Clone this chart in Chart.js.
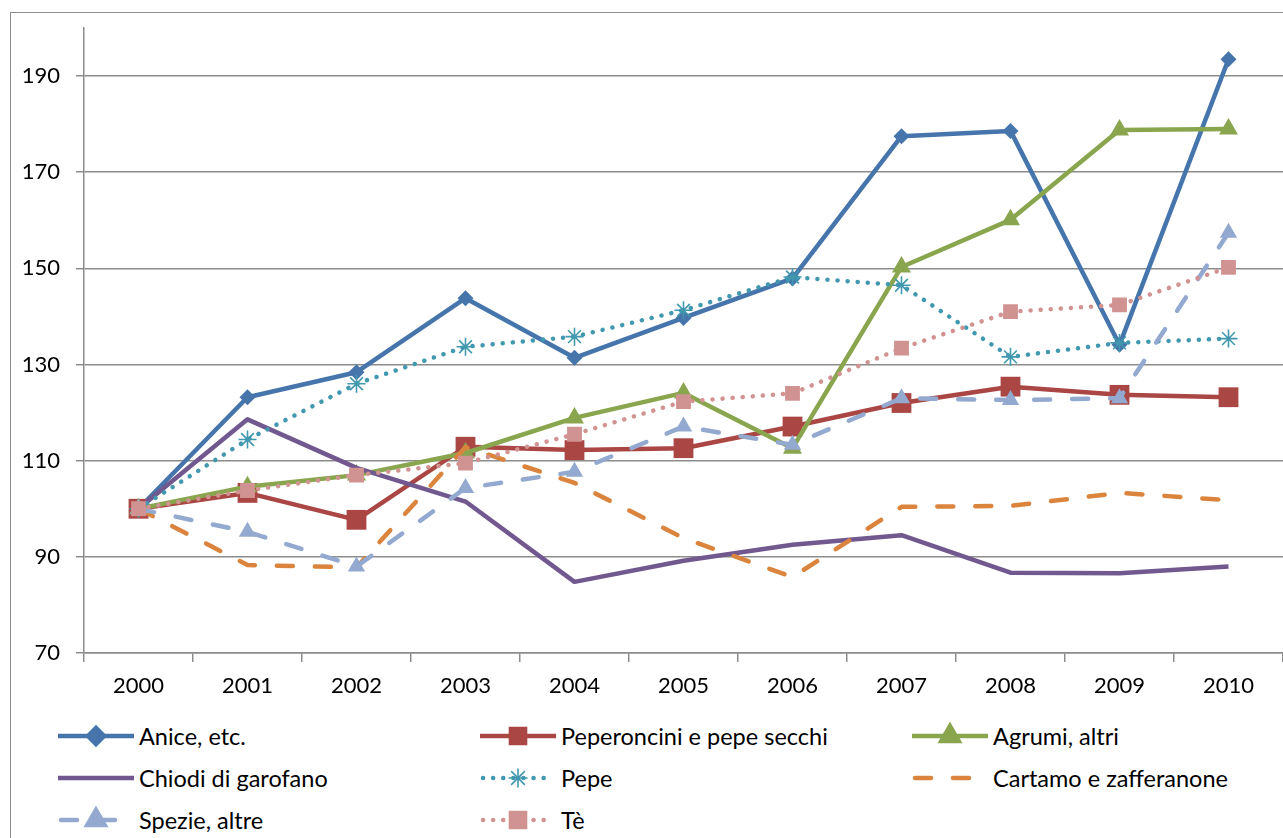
<!DOCTYPE html>
<html>
<head>
<meta charset="utf-8">
<script src="https://cdn.jsdelivr.net/npm/chart.js@4.4.1/dist/chart.umd.min.js"></script>
<style>
    body { margin: 0; background: #fff; width: 1283px; height: 838px; overflow: hidden; position: relative; font-family: Lato, 'Open Sans', sans-serif; }
    #frame { position: absolute; left: 10px; top: 12px; width: 1320px; height: 900px; border: 1.5px solid #8c8c8c; }
    #chart { position: absolute; left: 0; top: 0; }
    .lg { position: absolute; display: flex; align-items: center; font-size: 23.5px; color: #000; white-space: nowrap; }
    .lg canvas { margin-right: 5px; }
</style>
</head>
<body>
<div id="frame"></div>
<canvas id="chart" width="1283" height="700"></canvas>
<div id="legend"></div>

<script>
/* indici 2000 = 100 */
const years = ['2000', '2001', '2002', '2003', '2004', '2005', '2006', '2007', '2008', '2009', '2010'];
const yTicks = [70, 90, 110, 130, 150, 170, 190];

const anice       = [100, 123.2, 128.4, 143.8, 131.4, 139.7, 147.9, 177.5, 178.6, 134.1, 193.5];
const peperoncini = [100, 103.3, 97.7, 112.9, 112.2, 112.6, 117.1, 122.0, 125.4, 123.7, 123.2];
const agrumi      = [100, 104.6, 107.0, 111.6, 118.9, 124.1, 112.6, 150.3, 160.1, 178.8, 179.0];
const chiodi      = [100, 118.6, 108.5, 101.5, 84.8, 89.2, 92.5, 94.5, 86.7, 86.6, 88.0];
const pepe        = [100, 114.4, 126.0, 133.7, 135.8, 141.3, 148.2, 146.5, 131.6, 134.5, 135.4];
const cartamo     = [100, 88.3, 87.8, 112.8, 105.4, 93.9, 85.8, 100.4, 100.6, 103.3, 101.8];
const spezie      = [100, 95.2, 88.0, 104.3, 107.7, 117.1, 113.3, 123.0, 122.6, 123.0, 157.4];
const te          = [100, 103.8, 107.0, 109.5, 115.5, 122.3, 124.0, 133.4, 141.0, 142.4, 150.2];

const DOT = [0.1, 10];
const DASH = [16, 22];

const series = [
    { label: 'Anice, etc.', data: anice, color: '#4675ac', style: 'rectRot', r: 8, dash: [] },
    { label: 'Peperoncini e pepe secchi', data: peperoncini, color: '#aa4643', style: 'rect', r: 14, dash: [] },
    { label: 'Agrumi, altri', data: agrumi, color: '#89a54e', style: 'triangle', r: 11, dash: [] },
    { label: 'Chiodi di garofano', data: chiodi, color: '#71588f', style: false, r: 0, dash: [] },
    { label: 'Pepe', data: pepe, color: '#4198af', style: 'star', r: 9, dash: DOT },
    { label: 'Cartamo e zafferanone', data: cartamo, color: '#db843d', style: false, r: 0, dash: DASH },
    { label: 'Spezie, altre', data: spezie, color: '#93a9cf', style: 'triangle', r: 10, dash: DASH },
    { label: 'Tè', data: te, color: '#d19392', style: 'rect', r: 10.5, dash: DOT }
];

const GRID = '#8c8c8c';
const FONT = { family: 'Lato, "Open Sans", sans-serif', size: 22 };

function initChart() {
    const datasets = series.map((s, i) => ({
        label: s.label,
        data: s.data,
        borderColor: s.color,
        backgroundColor: s.color,
        borderWidth: 4.5,
        borderDash: s.dash,
        borderCapStyle: s.dash.length ? 'round' : 'butt',
        borderJoinStyle: 'round',
        tension: 0,
        pointStyle: s.style || 'circle',
        pointRadius: s.r,
        pointBorderWidth: s.style === 'star' ? 1.6 : 0,
        pointBorderColor: s.color,
        pointBackgroundColor: s.color,
        order: series.length - i
    }));

    new Chart(document.getElementById('chart'), {
        type: 'line',
        data: { labels: years, datasets },
        options: {
            responsive: false,
            animation: false,
            devicePixelRatio: 1,
            layout: { autoPadding: false, padding: { top: 28, left: 0, right: 0, bottom: 0 } },
            plugins: { legend: { display: false }, tooltip: { enabled: false } },
            scales: {
                x: {
                    type: 'category',
                    offset: true,
                    grid: { offset: true, drawOnChartArea: false, color: GRID, lineWidth: 1.5, tickLength: 9 },
                    border: { color: GRID, width: 1.5 },
                    ticks: { color: '#000', font: FONT, padding: 11, maxRotation: 0 },
                    afterFit: sc => { sc.height = 47; sc.paddingLeft = 0; sc.paddingRight = 0; }
                },
                y: {
                    min: 70,
                    max: 200,
                    grid: { color: GRID, lineWidth: 1.5, tickLength: 8 },
                    border: { color: GRID, width: 1.5 },
                    ticks: { color: '#000', font: FONT, padding: 16 },
                    afterBuildTicks: sc => { sc.ticks = yTicks.map(v => ({ value: v })); },
                    afterFit: sc => { sc.width = 84; sc.paddingTop = 0; sc.paddingBottom = 0; }
                }
            }
        }
    });
}

function buildLegend() {
    const cols = [58, 480, 912];
    const rows = [737, 779, 821];
    const box = document.getElementById('legend');
    series.forEach((s, i) => {
        const item = document.createElement('div');
        item.className = 'lg';
        item.style.left = cols[i % 3] + 'px';
        item.style.top = (rows[Math.floor(i / 3)] - 15) + 'px';
        item.style.height = '28px';
        const c = document.createElement('canvas');
        c.width = 76; c.height = 28;
        const ctx = c.getContext('2d');
        ctx.strokeStyle = s.color;
        ctx.fillStyle = s.color;
        ctx.lineWidth = 4.5;
        ctx.lineCap = s.dash.length ? 'round' : 'butt';
        ctx.setLineDash(s.dash);
        ctx.beginPath();
        ctx.moveTo(s.dash.length ? 3 : 0, 14);
        ctx.lineTo(s.dash.length ? 73 : 76, 14);
        ctx.stroke();
        ctx.setLineDash([]);
        if (s.style) {
            ctx.lineWidth = s.style === 'star' ? 1.6 : 0;
            Chart.helpers.drawPoint(ctx, { pointStyle: s.style, radius: Math.min(s.r, 10), rotation: 0, borderWidth: ctx.lineWidth }, 38, 14);
        }
        item.appendChild(c);
        const t = document.createElement('span');
        t.textContent = s.label;
        item.appendChild(t);
        box.appendChild(item);
    });
}

document.addEventListener('DOMContentLoaded', () => {
    initChart();
    buildLegend();
});
</script>
</body>
</html>
